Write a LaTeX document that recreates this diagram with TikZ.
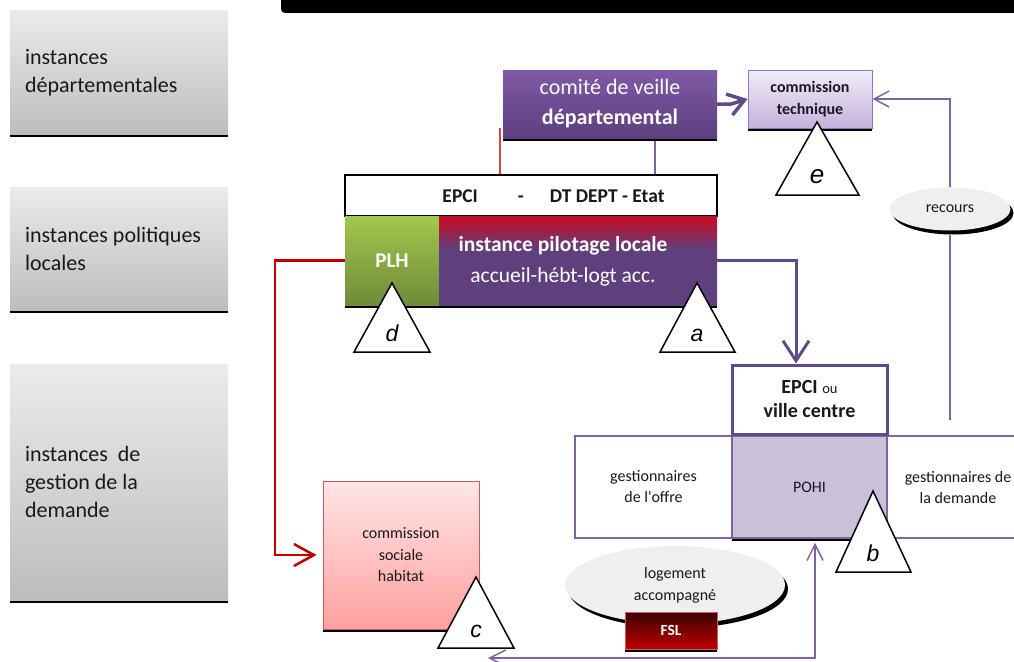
\documentclass[tikz,border=0pt]{standalone}
\usepackage{fontspec}
\setmainfont{Carlito}[Ligatures=TeXOff]
\newfontfamily\letterfont{Liberation Sans}
\usetikzlibrary{arrows.meta,shapes.geometric,shadows}

\definecolor{violetA}{HTML}{5F4A8B}
\definecolor{violetB}{HTML}{8064A2}
\definecolor{comTop}{HTML}{7F5AA6}
\definecolor{comBot}{HTML}{5C3F7F}
\definecolor{techTop}{HTML}{F1ECF7}
\definecolor{techBot}{HTML}{C6B2DD}
\definecolor{techLine}{HTML}{9478BC}
\definecolor{plhTop}{HTML}{A2C74E}
\definecolor{plhBot}{HTML}{6F8B38}
\definecolor{pilRed}{HTML}{C0102A}
\definecolor{pilViolet}{HTML}{5F3F7E}
\definecolor{pohiFill}{HTML}{CBC0DA}
\definecolor{cshTop}{HTML}{FFE6E6}
\definecolor{cshBot}{HTML}{FFA0A0}
\definecolor{cshLine}{HTML}{CC5A58}
\definecolor{fslTop}{HTML}{3A0000}
\definecolor{fslBot}{HTML}{C00000}
\definecolor{ellFill}{HTML}{EFEFEF}
\definecolor{redLink}{HTML}{C00000}
\definecolor{redStub}{HTML}{D84545}
\definecolor{tierTop}{HTML}{EBEBEB}
\definecolor{tierBot}{HTML}{BDBDBD}

% red band fading into violet for the local steering body
\pgfdeclareverticalshading{pilotshade}{100bp}{color(0bp)=(pilViolet); color(56bp)=(pilViolet); color(73bp)=(pilRed); color(100bp)=(pilRed)}

\newcommand\setfs[2]{\fontsize{#1}{#2}\selectfont}

\begin{document}
\begin{tikzpicture}[x=1pt,y=-1pt,
  base/.style={inner sep=0pt, align=center, text=black!90},
  flatshadow/.style={drop shadow={shadow xshift=0pt,shadow yshift=-3pt,opacity=1,fill=black}},
  ovalshadow/.style={drop shadow={shadow xshift=3pt,shadow yshift=-4pt,opacity=1,fill=black}},
  tier/.style={base, top color=tierTop, bottom color=tierBot, text width=188pt,
    align=flush left, inner xsep=15pt, inner ysep=0pt, font=\setfs{22}{28}, flatshadow},
  thinlink/.style={draw=violetB, line width=1.5pt},
  thicklink/.style={draw=violetA, line width=3pt},
  redlink/.style={draw=redLink, line width=2.5pt},
  tri/.style={draw=black, fill=white, line width=1.5pt, line join=miter},
  letter/.style={inner sep=0pt, anchor=base, font=\letterfont\itshape\setfs{23}{23}},
  thinhead/.style={-{Straight Barb[length=15pt,width=16pt]}}
]
\clip (0,0) rectangle (1014,661);

% banner along the top
\fill[black, rounded corners=4pt] (281,-10) rectangle (1030,13);

% level headings on the left
\node[tier, minimum height=123pt] (tierdep) at (119,72.5) {instances\\départementales};
\node[tier, minimum height=123pt] (tierpol) at (119,248.5) {instances politiques\\locales};
\node[tier, minimum height=236pt] (tiergest) at (119,482) {instances\ \ de\\gestion de la\\demande};

% departmental level
\node[base, minimum width=214pt, minimum height=68pt, top color=comTop, bottom color=comBot,
  text=white, font=\setfs{22}{30}, flatshadow] (comite) at (610,104)
  {comité de veille\\\textbf{départemental}};
\node[base, draw=techLine, line width=1pt, minimum width=124pt, minimum height=58pt,
  top color=techTop, bottom color=techBot, font=\bfseries\setfs{16}{22}, flatshadow] (tech)
  at (810,99) {commission\\technique};

% local political level
\node[base, draw=black, line width=1.2pt, fill=white, minimum width=372pt, minimum height=41pt]
  (epci) at (531,195.5) {};
\node[base, font=\bfseries\setfs{19.5}{24}] (epcitext) at (553.5,196)
  {EPCI\hspace{40pt}-\hspace{26pt}DT DEPT - Etat};
\node[base, minimum width=94pt, minimum height=89pt, top color=plhTop, bottom color=plhBot,
  text=white, font=\bfseries\setfs{21}{26}, flatshadow] (plh) at (392,260.5) {PLH};
\node[base, minimum width=278pt, minimum height=89pt, shading=pilotshade, flatshadow]
  (pilot) at (578,260.5) {};
\node[base, text=white, font=\setfs{21.5}{31}] (pilottext) at (563,261)
  {\textbf{instance pilotage locale}\\accueil-hébt-logt acc.};

% demand management level
\node[base, draw=violetB, line width=1.5pt, fill=pohiFill, minimum width=155pt, minimum height=102pt,
  font=\setfs{16}{21}, flatshadow] (pohi) at (809.5,487) {POHI};
\node[base, draw=violetB, line width=1.5pt, fill=white, minimum width=157pt, minimum height=102pt,
  font=\setfs{16}{21}] (offre) at (653.5,487) {gestionnaires\\de l'offre};
\node[base, draw=violetB, line width=1.5pt, fill=white, minimum width=142pt, minimum height=102pt,
  font=\setfs{16}{21}] (demande) at (958,487) {gestionnaires de\\la demande};
\node[base, draw=violetA, line width=3pt, fill=white, minimum width=155pt, minimum height=69pt,
  font=\setfs{20}{24}] (epciv) at (809.5,399.5)
  {\textbf{EPCI} {\setfs{14.5}{24}ou}\\\textbf{ville centre}};

\node[base, draw=cshLine, line width=1pt, minimum width=156pt, minimum height=148pt,
  top color=cshTop, bottom color=cshBot, font=\setfs{16}{21.5}, flatshadow] (csh)
  at (401,555) {commission\\sociale\\habitat};

\node[base, ellipse, fill=ellFill, minimum width=220pt, minimum height=78pt,
  font=\setfs{16}{22}, ovalshadow] (logac) at (675,585) {logement\\accompagné};
\node[base, draw=cshLine, line width=1pt, minimum width=92pt, minimum height=37pt,
  top color=fslTop, bottom color=fslBot, text=white, font=\bfseries\setfs{15.5}{18}, flatshadow]
  (fsl) at (671,630.5) {FSL};

\node[base, ellipse, fill=ellFill, minimum width=121pt, minimum height=43pt,
  font=\setfs{16}{18}, ovalshadow] (recours) at (950,209) {recours};

% connectors
\coordinate (redstub) at (500,128);
\draw[draw=redStub, line width=1.5pt] (redstub) -- (redstub |- epci.north);
\draw[thinlink] ([xshift=45pt,yshift=-3pt]comite.south) -- ([xshift=45pt]comite.south |- epci.north);

\draw[thicklink, line width=3.5pt, -{Straight Barb[length=16pt,width=22pt]}]
  (comite.east) -- ++(14,0) -- (tech.west);

\draw[thicklink, -{Straight Barb[length=20pt,width=26pt]}]
  (pilot.east) -| ([xshift=-13.5pt]epciv.north);

\draw[redlink, -{Straight Barb[length=20pt,width=22pt]}]
  (plh.west) -- ++(-70,0) |- ([xshift=-6pt]csh.west);

\coordinate (recfoot) at (950,420);
\draw[thinlink] (recfoot) -- ([yshift=-4pt]recours.south);
\draw[thinlink, thinhead] (recours.north) |- (tech.east);

\coordinate (lowleft) at (488,658);
\draw[thinlink, {Straight Barb[length=16pt,width=16pt]}-{Straight Barb[length=16pt,width=16pt]}]
  (lowleft) -| ([xshift=5.5pt,yshift=-4pt]pohi.south);

% lettered markers
\draw[tri] (392,283) -- (354,352) -- (430,352) -- cycle;
\node[letter] (markd) at (392,341) {d};
\draw[tri] (697,283) -- (660,352) -- (735,352) -- cycle;
\node[letter] (marka) at (697,341) {a};
\draw[tri] (817,122) -- (776,195) -- (859,195) -- cycle;
\node[letter, font=\letterfont\itshape\setfs{26}{26}] (marke) at (817,183) {e};
\draw[tri] (873,491) -- (836,572) -- (911,572) -- cycle;
\node[letter] (markb) at (873,561) {b};
\draw[tri] (476,577) -- (438,648) -- (514,648) -- cycle;
\node[letter] (markc) at (476,637) {c};
\end{tikzpicture}
\end{document}
